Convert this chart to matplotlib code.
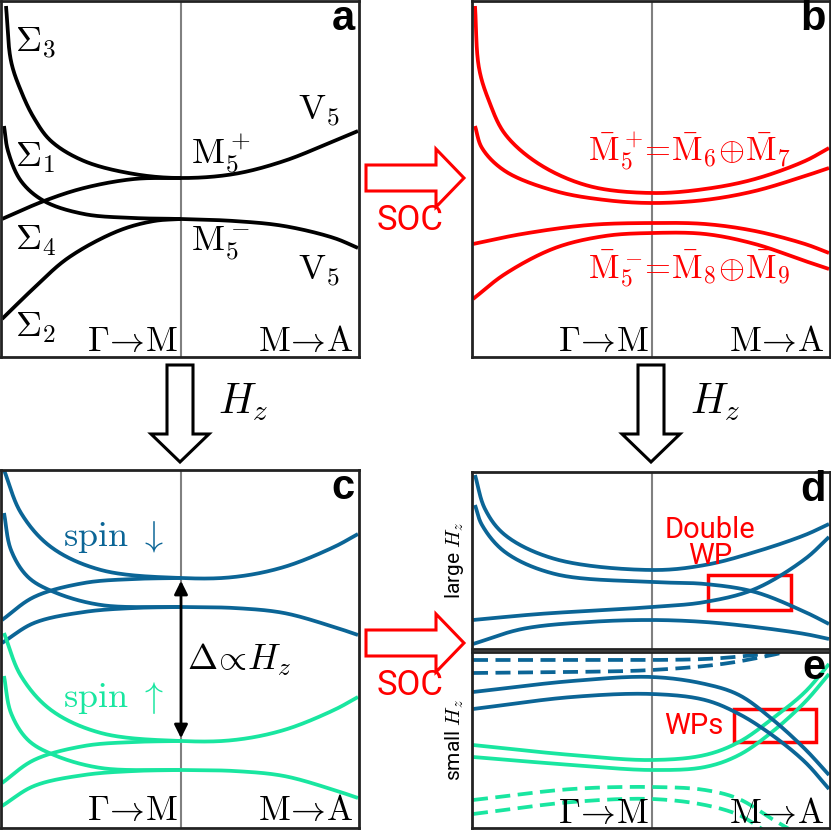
import numpy as np
import matplotlib
matplotlib.use("Agg")
import matplotlib.pyplot as plt
from matplotlib.patches import FancyArrow, Rectangle

plt.rcParams['mathtext.fontset'] = 'cm'

W, H = 831, 830
BLUE = '#0b6596'
GREEN = '#19e6a0'
RED = '#ff0000'

# ---- data (panel-local pixel-like units: x from left, y from top) ----
# panel a
a_S3_x = [5, 10, 20, 33, 50, 83, 133, 180, 233, 283, 333, 357]
a_S3_y = [5, 60, 90, 117, 140, 160, 173, 177, 173, 160, 140, 130]
a_S1_x = [3, 7, 20, 43, 83, 133, 180, 233, 283, 333, 357]
a_S1_y = [125, 150, 180, 200, 213, 217, 218, 220, 225, 237, 247]
a_S4_x = [1, 43, 83, 133, 180]
a_S4_y = [218, 200, 187, 178, 177]
a_S2_x = [1, 33, 67, 117, 153, 180]
a_S2_y = [318, 287, 257, 230, 220, 218]

# panel b
b_x1 = [3, 7, 17, 33, 67, 117, 180, 233, 283, 333, 357]
b_y1 = [5, 67, 100, 133, 163, 185, 192, 188, 178, 160, 147]
b_x2 = [3, 10, 33, 83, 133, 180, 233, 283, 333, 357]
b_y2 = [125, 147, 170, 190, 199, 202, 199, 190, 175, 167]
b_x3 = [1, 50, 117, 180, 233, 283, 333, 357]
b_y3 = [243, 233, 224, 222, 223, 230, 243, 252]
b_x4 = [1, 33, 83, 133, 180, 233, 283, 333, 357]
b_y4 = [298, 273, 247, 235, 232, 233, 243, 260, 268]

# panel c (blue, green = blue shifted by c_shift)
c_top_x = [3, 20, 50, 100, 180, 233, 283, 333, 357]
c_top_y = [0, 43, 77, 100, 108, 107, 97, 77, 64]
c_S1_x = [3, 10, 27, 53, 100, 180, 233, 283, 333, 357]
c_S1_y = [43, 80, 107, 122, 135, 137, 138, 143, 157, 165]
c_S4_x = [1, 33, 83, 133, 180]
c_S4_y = [150, 127, 113, 109, 108]
c_S2_x = [1, 33, 83, 133, 180]
c_S2_y = [173, 153, 142, 138, 137]
c_shift = 163

# panel d
d_x1 = [3, 13, 33, 83, 180, 233, 283, 333, 357]
d_y1 = [3, 37, 63, 87, 98, 93, 80, 63, 52]
d_x2 = [3, 10, 33, 83, 180, 233, 283, 333, 357]
d_y2 = [33, 53, 80, 102, 110, 112, 120, 140, 152]
d_x3 = [1, 67, 180, 233, 283, 333, 357]
d_y3 = [148, 142, 135, 130, 117, 87, 65]
d_x4 = [1, 50, 117, 180, 233, 283, 333, 357]
d_y4 = [172, 157, 150, 148, 150, 155, 162, 167]

# panel e
e_bd1_x = [1, 100, 233, 283, 310]
e_bd1_y = [8, 8, 7, 3, 0]
e_bd2_x = [1, 100, 180, 250, 300, 313]
e_bd2_y = [21, 20, 18, 12, 3, 0]
e_b1_x = [1, 100, 180, 233, 267, 300, 333, 357]
e_b1_y = [40, 29, 25, 32, 43, 67, 97, 123]
e_b2_x = [1, 100, 180, 233, 267, 300, 333, 357]
e_b2_y = [57, 45, 42, 48, 62, 83, 110, 137]
e_g1_x = [1, 100, 180, 233, 267, 300, 333, 357]
e_g1_y = [93, 103, 108, 103, 90, 67, 40, 12]
e_g2_x = [1, 100, 180, 233, 267, 300, 333, 357]
e_g2_y = [105, 113, 118, 115, 103, 80, 50, 22]
e_gd1_x = [1, 100, 180, 233, 267, 300, 317]
e_gd1_y = [148, 137, 135, 138, 147, 167, 177]
e_gd2_x = [1, 100, 180, 233, 267, 290]
e_gd2_y = [162, 150, 147, 153, 163, 177]


def smooth(xs, ys, n=40, alpha=0.5):
    # centripetal Catmull-Rom spline through the points (drawing only)
    P = np.column_stack([xs, ys]).astype(float)
    P = np.vstack([2 * P[0] - P[1], P, 2 * P[-1] - P[-2]])
    out = []
    for i in range(1, len(P) - 2):
        p0, p1, p2, p3 = P[i - 1], P[i], P[i + 1], P[i + 2]
        t0 = 0.0
        t1 = t0 + np.linalg.norm(p1 - p0) ** alpha
        t2 = t1 + np.linalg.norm(p2 - p1) ** alpha
        t3 = t2 + np.linalg.norm(p3 - p2) ** alpha
        t = np.linspace(t1, t2, n, endpoint=False)[:, None]
        A1 = (t1 - t) / (t1 - t0) * p0 + (t - t0) / (t1 - t0) * p1
        A2 = (t2 - t) / (t2 - t1) * p1 + (t - t1) / (t2 - t1) * p2
        A3 = (t3 - t) / (t3 - t2) * p2 + (t - t2) / (t3 - t2) * p3
        B1 = (t2 - t) / (t2 - t0) * A1 + (t - t0) / (t2 - t0) * A2
        B2 = (t3 - t) / (t3 - t1) * A2 + (t - t1) / (t3 - t1) * A3
        out.append((t2 - t) / (t2 - t1) * B1 + (t - t1) / (t2 - t1) * B2)
    out.append(P[-2][None, :])
    C = np.vstack(out)
    return C[:, 0], C[:, 1]


fig = plt.figure(figsize=(W / 100, H / 100), dpi=100)


def make_ax(x0, y0, x1, y1):
    ax = fig.add_axes([x0 / W, 1 - y1 / H, (x1 - x0) / W, (y1 - y0) / H])
    ax.set_xlim(0, x1 - x0)
    ax.set_ylim(y1 - y0, 0)
    ax.set_xticks([]); ax.set_yticks([])
    for s in ax.spines.values():
        s.set_linewidth(2.0)
        s.set_color('#222222')
    ax.axvline(180, color='#808080', lw=1.5, zorder=0)
    return ax


def curve(ax, xs, ys, color, dy=0, ls='-'):
    sx, sy = smooth(xs, ys)
    kw = dict(dashes=(4, 2)) if ls == '--' else {}
    ax.plot(sx, np.array(sy) + dy, color=color, lw=2.7, solid_capstyle='butt', **kw)


def kp(ax, y):
    ax.text(177, y + 2, r'$\Gamma\!\rightarrow\!\mathrm{M}$', ha='right', va='bottom', fontsize=25)
    ax.text(352, y + 2, r'$\mathrm{M}\!\rightarrow\!\mathrm{A}$', ha='right', va='bottom', fontsize=25)


def letter(ax, s):
    ax.text(354, -2, s, ha='right', va='top', fontsize=30, fontweight='bold', family='Liberation Sans')


# panel a
ax = make_ax(1, 1, 359, 357)
for xs, ys in [(a_S3_x, a_S3_y), (a_S1_x, a_S1_y), (a_S4_x, a_S4_y), (a_S2_x, a_S2_y)]:
    curve(ax, xs, ys, 'black')
for s, x, y in [(r'$\Sigma_3$', 14, 42), (r'$\Sigma_1$', 14, 157), (r'$\Sigma_4$', 14, 240),
                (r'$\Sigma_2$', 14, 327), (r'$\mathrm{M}_5^+$', 190, 153), (r'$\mathrm{M}_5^-$', 190, 243),
                (r'$\mathrm{V}_5$', 297, 110), (r'$\mathrm{V}_5$', 297, 270)]:
    ax.text(x, y, s, fontsize=26, va='center')
kp(ax, 355)
letter(ax, 'a')

# panel b
ax = make_ax(472, 1, 830, 357)
for xs, ys in [(b_x1, b_y1), (b_x2, b_y2), (b_x3, b_y3), (b_x4, b_y4)]:
    curve(ax, xs, ys, RED)
ax.text(116, 150, r'$\bar{\mathrm{M}}_5^+\!\!=\!\bar{\mathrm{M}}_6\!\oplus\!\bar{\mathrm{M}}_7$',
        color=RED, fontsize=24, va='center')
ax.text(116, 268, r'$\bar{\mathrm{M}}_5^-\!\!=\!\bar{\mathrm{M}}_8\!\oplus\!\bar{\mathrm{M}}_9$',
        color=RED, fontsize=24, va='center')
kp(ax, 355)
letter(ax, 'b')

# panel c
ax = make_ax(1, 470, 359, 828)
for col, dy in [(BLUE, 0), (GREEN, c_shift)]:
    for xs, ys in [(c_top_x, c_top_y), (c_S1_x, c_S1_y), (c_S4_x, c_S4_y), (c_S2_x, c_S2_y)]:
        curve(ax, xs, ys, col, dy)
ax.annotate('', xy=(180, 108), xytext=(180, 271),
            arrowprops=dict(arrowstyle='<|-|>', color='black', lw=2, mutation_scale=20))
ax.text(186, 190, r'$\Delta\!\propto\!H_z$', fontsize=26, va='center')
ax.text(62, 67, r'$\mathrm{spin}\ \downarrow$', fontsize=26, color=BLUE, va='center')
ax.text(62, 228, r'$\mathrm{spin}\ \uparrow$', fontsize=26, color=GREEN, va='center')
kp(ax, 355)
letter(ax, 'c')

# panel d
ax = make_ax(472, 472, 830, 649)
for xs, ys in [(d_x1, d_y1), (d_x2, d_y2), (d_x3, d_y3), (d_x4, d_y4)]:
    curve(ax, xs, ys, BLUE)
ax.add_patch(Rectangle((236, 103), 83, 35, fill=False, ec=RED, lw=2.5))
ax.text(238, 58, 'Double', color=RED, fontsize=21, ha='center', va='center', family='Roboto')
ax.text(238, 84, 'WP', color=RED, fontsize=21, ha='center', va='center', family='Roboto')
letter(ax, 'd')

# panel e
ax = make_ax(472, 652, 830, 828)
curve(ax, e_bd1_x, e_bd1_y, BLUE, ls='--')
curve(ax, e_bd2_x, e_bd2_y, BLUE, ls='--')
curve(ax, e_gd1_x, e_gd1_y, GREEN, ls='--')
curve(ax, e_gd2_x, e_gd2_y, GREEN, ls='--')
for xs, ys in [(e_g1_x, e_g1_y), (e_g2_x, e_g2_y)]:
    curve(ax, xs, ys, GREEN)
for xs, ys in [(e_b1_x, e_b1_y), (e_b2_x, e_b2_y)]:
    curve(ax, xs, ys, BLUE)
ax.add_patch(Rectangle((262, 57), 82, 33, fill=False, ec=RED, lw=2.5))
ax.text(222, 74, 'WPs', color=RED, fontsize=21, ha='center', va='center', family='Roboto')
kp(ax, 176)
ax.text(354, -4, 'e', ha='right', va='top', fontsize=30, fontweight='bold', family='Liberation Sans')

# overlay for arrows
ov = fig.add_axes([0, 0, 1, 1])
ov.set_xlim(0, W); ov.set_ylim(H, 0); ov.axis('off')


def hollow(x, y, dx, dy, color):
    ov.add_patch(FancyArrow(x, y, dx, dy, width=26, head_width=58, head_length=28,
                            length_includes_head=True, fc='white', ec=color, lw=2.2))

hollow(366, 178, 98, 0, RED)
ov.text(410, 220, 'SOC', color=RED, fontsize=25, ha='center', va='center', family='Roboto')
hollow(366, 643, 98, 0, RED)
ov.text(410, 685, 'SOC', color=RED, fontsize=25, ha='center', va='center', family='Roboto')
hollow(180, 365, 0, 97, 'black')
ov.text(218, 402, r'$H_z$', fontsize=30, va='center')
hollow(651, 365, 0, 97, 'black')
ov.text(690, 402, r'$H_z$', fontsize=30, va='center')
ov.text(455, 560, r'large $H_z$', rotation=90, fontsize=15, ha='center', va='center', family='Roboto')
ov.text(455, 740, r'small $H_z$', rotation=90, fontsize=15, ha='center', va='center', family='Roboto')

fig.savefig('out.png', dpi=100)
